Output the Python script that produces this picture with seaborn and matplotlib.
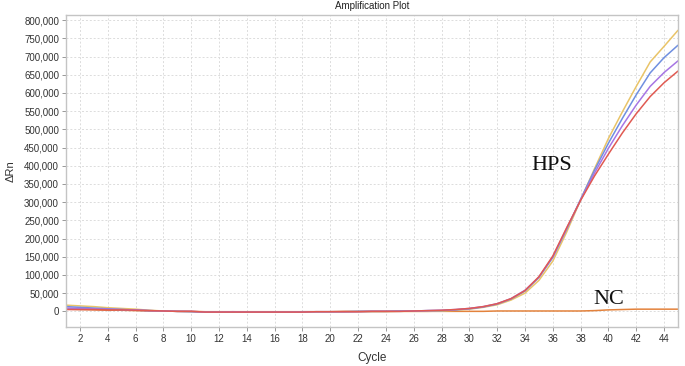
import numpy as np
import pandas as pd
import matplotlib
matplotlib.use("Agg")
import matplotlib.pyplot as plt
from matplotlib.ticker import FuncFormatter
import seaborn as sns

cycles = list(range(1, 46))

# delta Rn per cycle (in units of 1,000)
red = [5, 5, 5, 4, 4, 3, 2, 1, 0, 0, -2, -2, -2, -2, -2, -2, -2, -2, -1, -1, -1, -1, 0, 0, 0, 1, 2,
       3, 5, 8, 13, 21, 35, 57, 95, 152, 230, 305, 372, 432, 490, 543, 590, 628, 660]
purple = [9, 8, 7, 6, 5, 4, 2, 1, 0, 0, -2, -2, -1, -2, -2, -2, -2, -2, -1, -1, -1, -1, 0, 0, 0, 1, 2,
          3, 5, 8, 13, 21, 35, 58, 94, 150, 228, 306, 380, 448, 510, 567, 618, 656, 688]
blue = [13, 11, 9, 7, 5, 3, 2, 1, 0, -1, -2, -2, -2, -2, -2, -2, -2, -1, -1, -1, -1, 0, 0, 0, 1, 1, 2,
        2, 4, 7, 12, 20, 34, 56, 93, 148, 226, 308, 388, 462, 530, 595, 655, 697, 731]
yellow = [17, 15, 13, 10, 8, 6, 3, 1, 0, -1, -2, -2, -2, -2, -2, -2, -2, -2, -2, -1, -1, -1, -1, -1, 0, 0, 0,
          1, 3, 6, 11, 18, 31, 50, 85, 138, 218, 306, 392, 475, 548, 618, 685, 728, 772]
nc = [6, 5, 4, 3, 3, 2, 1, 1, 0, 0, -1, -1, -1, -1, -1, -1, -1, -1, -1, -1, 0, 0, 0, 0, 0, 0, 0,
      0, 0, 0, 0, 1, 1, 1, 1, 1, 1, 1, 2, 4, 5, 6, 6, 6, 6]

wells = ["NC", "Yellow", "Blue", "Purple", "Red"]
colors = ["#e3823c", "#e9c468", "#6f8fe0", "#a776e4", "#e05a52"]

series = {"NC": nc, "Yellow": yellow, "Blue": blue, "Purple": purple, "Red": red}
rows = []
for w in wells:
    for c, v in zip(cycles, series[w]):
        rows.append({"Cycle": c, "dRn": v * 1000, "Well": w})
df = pd.DataFrame(rows)

sns.set_style("white")
plt.rcParams["font.family"] = ["Liberation Sans", "DejaVu Sans"]

fig = plt.figure(figsize=(6.85, 3.66), dpi=100)
ax = fig.add_axes([66 / 685, 39 / 366, 612 / 685, 312 / 366])

sns.lineplot(data=df, x="Cycle", y="dRn", hue="Well", hue_order=wells,
             palette=colors, linewidth=1.1, legend=False, ax=ax)

ax.set_xlim(1, 45)
ax.set_ylim(-43000, 814000)
ax.set_xticks(range(2, 45, 2))
ax.set_yticks(range(0, 800001, 50000))
ax.yaxis.set_major_formatter(FuncFormatter(lambda v, p: f"{int(v):,}"))
ax.grid(True, color="#dcdcdc", linestyle=(0, (2, 2)), linewidth=0.7)
for s in ax.spines.values():
    s.set_color("#c4c4c4")
    s.set_linewidth(1.0)
ax.tick_params(axis="both", which="both", length=3, width=0.6, color="#888888",
               labelsize=7, labelcolor="#333333", pad=2, left=True, bottom=True)

ax.set_xlabel("Cycle", fontsize=8.5, color="#333333", labelpad=6)
ax.set_ylabel("ΔRn", fontsize=8, color="#333333", labelpad=6)
ax.set_title("Amplification Plot", fontsize=7, color="#222222", pad=4)

ax.text(35.9, 388000, "HPS", fontsize=16, family="Liberation Serif",
        ha="center", va="baseline", color="#111111")
ax.text(40.0, 19000, "NC", fontsize=16, family="Liberation Serif",
        ha="center", va="baseline", color="#111111")

fig.savefig("out.png", dpi=100)
